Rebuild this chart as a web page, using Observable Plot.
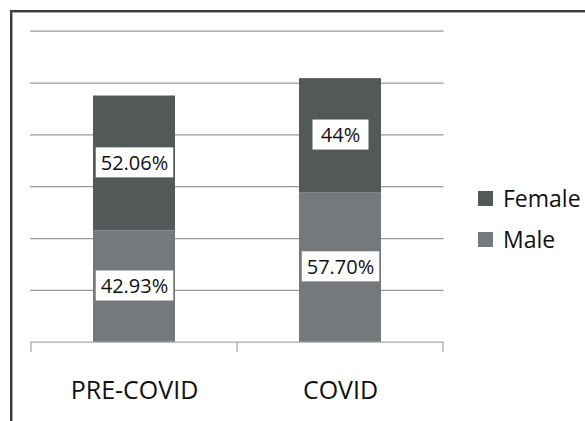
<!DOCTYPE html>
<html>
<head>
<meta charset="utf-8">
<script src="https://cdn.jsdelivr.net/npm/d3@7"></script>
<script src="https://cdn.jsdelivr.net/npm/@observablehq/plot@0.6"></script>
<style>
  html, body { margin: 0; padding: 0; background: #fff; overflow: hidden; }
  #wrap { position: relative; width: 585px; height: 421px; overflow: hidden; font-family: "Open Sans", sans-serif; }
  .frame1 { position: absolute; left: 10px; top: 10px; width: 2000px; height: 2000px; border-left: 2px solid #3c3c3c; border-top: 2px solid #3c3c3c; }
  .frame2 { position: absolute; left: 12px; top: 12px; width: 2000px; height: 2000px; border-left: 1px solid #a8a8a8; border-top: 1px solid #a8a8a8; }
  #legend { position: absolute; left: 478px; top: 178px; font-size: 23px; color: #111; line-height: 41px; }
  #legend .item { display: flex; align-items: center; height: 41px; }
  #legend .sw { width: 15px; height: 15px; margin-right: 10px; }
  svg { position: absolute; left: 0; top: 0; }
</style>
</head>
<body>
<div id="wrap">
  <div class="frame1"></div>
  <div class="frame2"></div>
  <div id="chart"></div>
  <div id="legend"></div>
</div>
<script>
const categories = ["PRE-COVID", "COVID"];
const series = ["Male", "Female"];
const maleValues = [42.93, 57.70];
const femaleValues = [52.06, 44];
const maleLabels = ["42.93%", "57.70%"];
const femaleLabels = ["52.06%", "44%"];
const legendOrder = ["Female", "Male"];
const colors = ["#75797c", "#535859"];

const data = [];
categories.forEach((c, i) => {
  data.push({cat: c, sex: "Male", value: maleValues[i], label: maleLabels[i]});
  data.push({cat: c, sex: "Female", value: femaleValues[i], label: femaleLabels[i]});
});

const chart = Plot.plot({
  width: 585,
  height: 421,
  marginLeft: 30,
  marginRight: 141.5,
  marginTop: 30.7,
  marginBottom: 79.3,
  style: {fontFamily: "Open Sans, sans-serif", background: "transparent", overflow: "visible"},
  x: {domain: categories, paddingInner: 0.6, paddingOuter: 0.3, label: null},
  y: {domain: [0, 120], ticks: d3.range(0, 121, 20), label: null},
  color: {domain: series, range: colors},
  marks: [
    Plot.gridY({ticks: d3.range(20, 121, 20), stroke: "#999", strokeOpacity: 1, strokeWidth: 1.3}),
    Plot.ruleY([0], {stroke: "#aaa", strokeWidth: 1.3}),
    Plot.barY(data, Plot.stackY({x: "cat", y: "value", fill: "sex", z: "sex", order: series})),
    Plot.text(data, Plot.stackY({x: "cat", y: "value", z: "sex", text: "label", order: series, fontSize: 20, fill: "#111"})),
    Plot.axisX({tickSize: 0, tickPadding: 39, fontSize: 25, fill: "#111", label: null}),
    Plot.axisY({ticks: [], label: null})
  ]
});

document.getElementById("chart").appendChild(chart);

// white boxes behind data labels
const textG = chart.querySelector('g[aria-label="text"]');
if (textG) {
  textG.querySelectorAll("text").forEach(t => {
    const b = t.getBBox();
    const w = Math.max(b.width + 10, 56);
    const h = 30;
    const cx = b.x + b.width / 2;
    const cy = b.y + b.height / 2;
    const r = document.createElementNS("http://www.w3.org/2000/svg", "rect");
    r.setAttribute("x", cx - w / 2);
    r.setAttribute("y", cy - h / 2);
    r.setAttribute("width", w);
    r.setAttribute("height", h);
    r.setAttribute("fill", "#fff");
    const tr = t.getAttribute("transform");
    if (tr) r.setAttribute("transform", tr);
    textG.insertBefore(r, t);
  });
}

// category boundary ticks
const xs = chart.scale("x");
const ys = chart.scale("y");
const step = xs.apply(categories[1]) - xs.apply(categories[0]);
const bw = xs.bandwidth;
const bounds = categories.map(c => xs.apply(c) + bw / 2 - step / 2);
bounds.push(xs.apply(categories[categories.length - 1]) + bw / 2 + step / 2);
const y0 = ys.apply(0);
d3.select(chart).append("g").selectAll("line").data(bounds).join("line")
  .attr("x1", d => d).attr("x2", d => d)
  .attr("y1", y0).attr("y2", y0 + 10)
  .attr("stroke", "#aaa").attr("stroke-width", 1.3);

// legend
const cs = chart.scale("color");
const leg = d3.select("#legend");
legendOrder.forEach(s => {
  const it = leg.append("div").attr("class", "item");
  it.append("div").attr("class", "sw").style("background", cs.apply(s));
  it.append("span").text(s);
});
</script>
</body>
</html>
